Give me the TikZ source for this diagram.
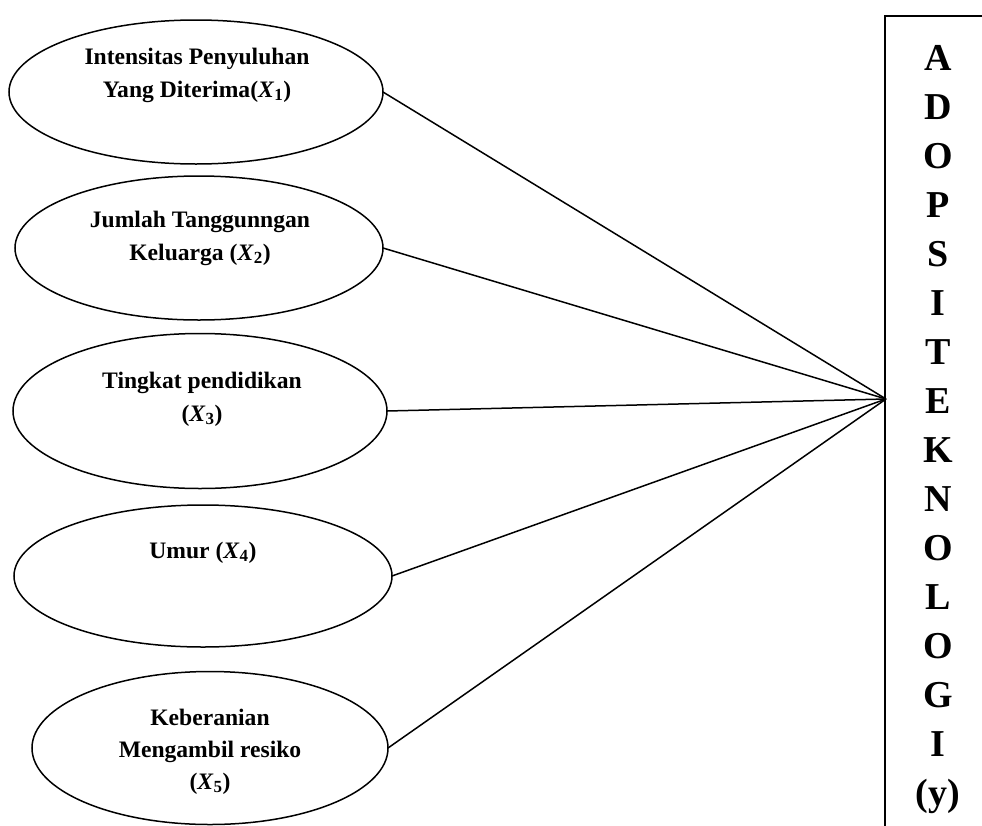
\documentclass[tikz,border=0pt]{standalone}
\usepackage{fontspec}
\setmainfont{Liberation Serif}
\usetikzlibrary{shapes.geometric}
\newcommand{\xvar}[1]{\textit{X}\textsubscript{\fontsize{17}{17}\selectfont #1}}
\begin{document}
\begin{tikzpicture}[x=1pt,y=-1pt,
  every node/.style={inner sep=0pt, outer sep=0pt},
  ell/.style={draw, ellipse, line width=1.5pt},
  lab/.style={anchor=base, font=\fontsize{23.6}{33}\selectfont\bfseries},
  letr/.style={anchor=base, font=\fontsize{38}{46}\selectfont\bfseries},
  link/.style={line width=1.5pt},
  frame/.style={line width=1.6pt}]
\useasboundingbox (0,0) rectangle (982,825);
% ellipses
\node[ell, minimum width=374pt, minimum height=144pt] (e1) at (196,92) {};
\node[ell, minimum width=368pt, minimum height=144pt] (e2) at (199,248) {};
\node[ell, minimum width=374pt, minimum height=155pt] (e3) at (200,411) {};
\node[ell, minimum width=378pt, minimum height=142pt] (e4) at (203,576) {};
\node[ell, minimum width=356pt, minimum height=153pt] (e5) at (210,748) {};
% labels
\node[lab] (t1a) at (197,64) {Intensitas Penyuluhan};
\node[lab] (t1b) at (197,97) {Yang Diterima(\xvar{1})};
\node[lab] (t2a) at (200,227) {Jumlah Tanggunngan};
\node[lab] (t2b) at (200,260) {Keluarga (\xvar{2})};
\node[lab] (t3a) at (202,388) {Tingkat pendidikan};
\node[lab] (t3b) at (202,421) {(\xvar{3})};
\node[lab] (t4a) at (203,558) {Umur (\xvar{4})};
\node[lab] (t5a) at (210,725) {Keberanian};
\node[lab] (t5b) at (210,757) {Mengambil resiko};
\node[lab] (t5c) at (210,789) {(\xvar{5})};
% box (cropped at right and bottom)
\coordinate (bbot) at (885,827);
\coordinate (btl) at (885,16);
\coordinate (btr) at (984,16);
\draw[frame] (bbot) -- (btl) -- (btr);
\coordinate (hub) at (886,399);
% box letters
\foreach \ch [count=\i from 0] in {A,D,O,P,S,I,T,E,K,N,O,L,O,G,I,(y)}
  \node[letr] (L\i) at (938,{70+49*\i}) {\ch};
% connectors
\foreach \e in {e1,e2,e3,e4,e5}
  \draw[link] (\e.east) -- (hub);
\end{tikzpicture}
\end{document}
